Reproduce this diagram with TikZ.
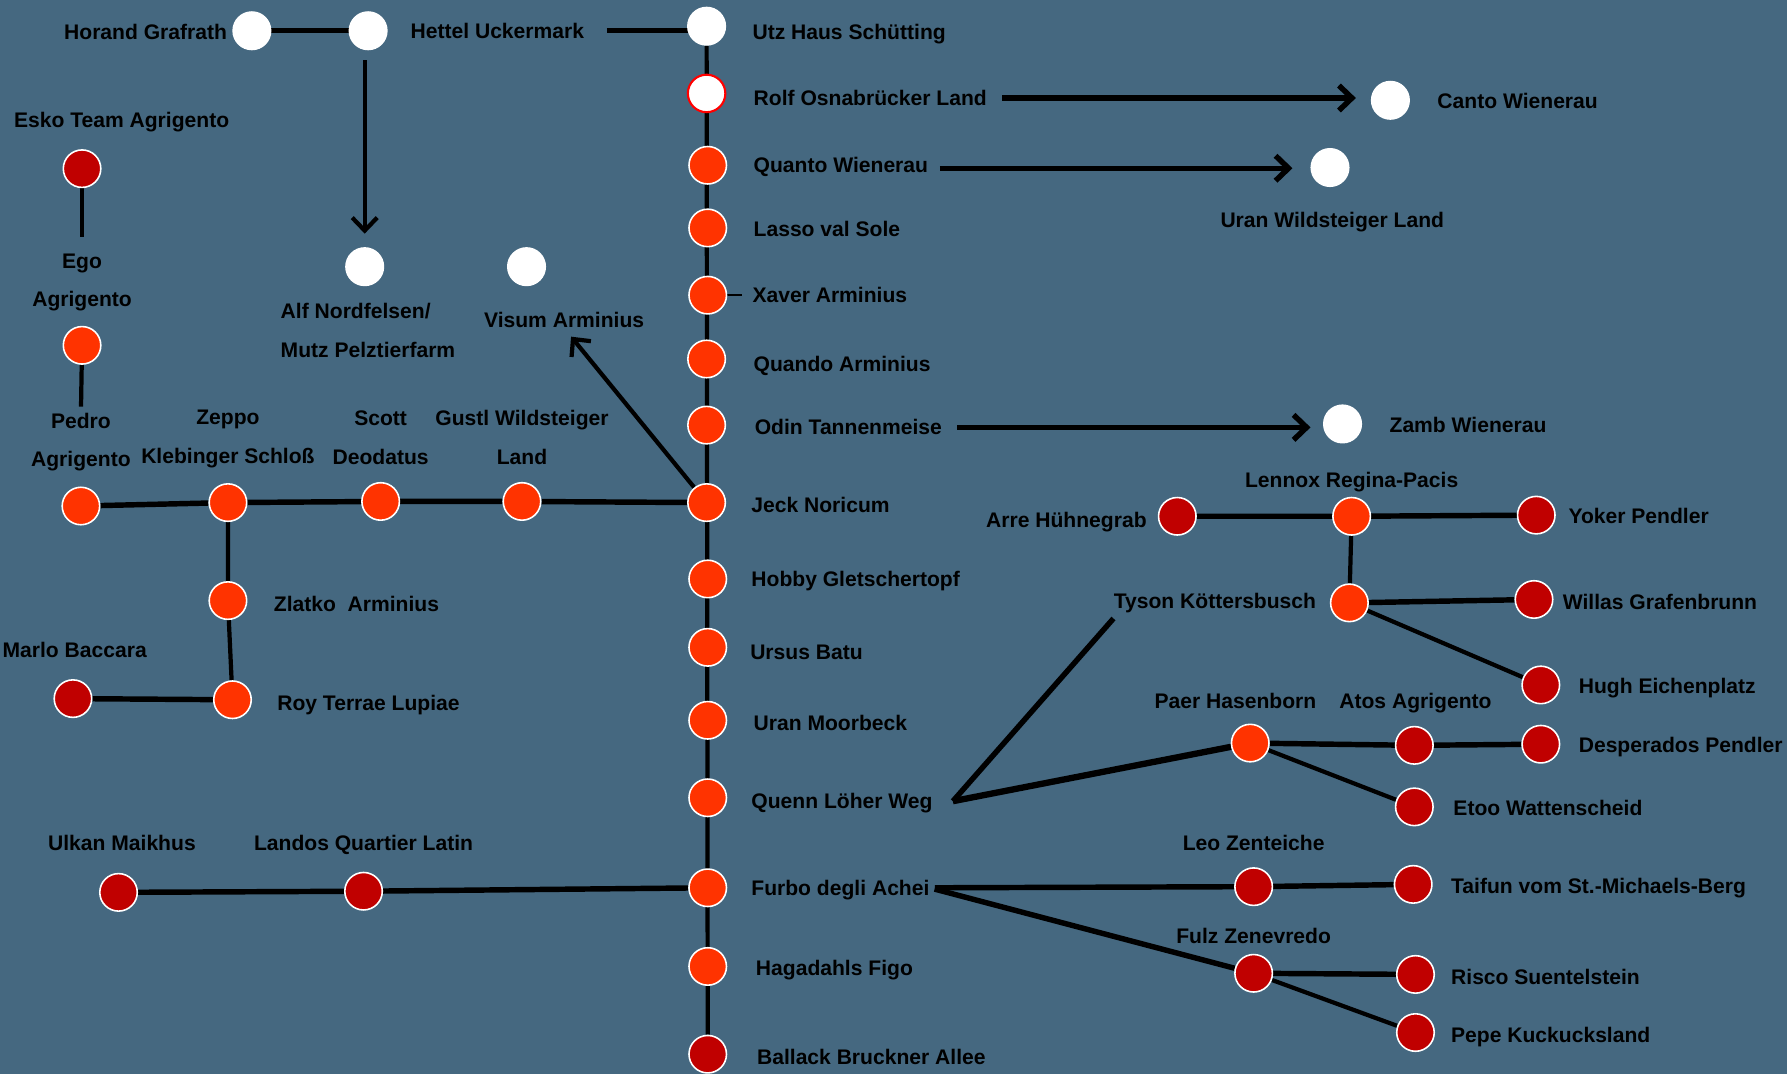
\documentclass[tikz,border=0pt]{standalone}
\usepackage{fontspec}
\setmainfont{Liberation Sans}
\usetikzlibrary{arrows.meta}
\definecolor{bgblue}{RGB}{69,104,128}
\definecolor{stnorange}{RGB}{255,51,0}
\definecolor{stnred}{RGB}{192,0,0}
\pgfdeclarelayer{back}
\pgfsetlayers{back,main}
\tikzset{
  stn/.style={circle, minimum size=7.5mm, inner sep=0pt, draw=white, line width=0.9pt},
  wst/.style={stn, fill=white},
  ost/.style={stn, fill=stnorange},
  dst/.style={stn, fill=stnred},
  lbl/.style={font=\bfseries\fontsize{12}{22}\selectfont, inner sep=0pt, text height=8.6pt, text depth=0pt, anchor=west},
  lbltwo/.style={font=\bfseries\fontsize{12}{22}\selectfont, inner sep=0pt, align=center},
  thk/.style={line width=3.1pt},
  thn/.style={line width=2.4pt},
  arr/.style={-{Straight Barb[length=2.6mm,width=5mm]}}
}
\begin{document}
\begin{tikzpicture}[x=0.228mm, y=-0.228mm]
\useasboundingbox (0,0) rectangle (1568,942);
\begin{pgfonlayer}{back}
\fill [bgblue] (0,0) rectangle (1568,942);
\end{pgfonlayer}
% main line
\node [wst] (utz) at (620,23) {};
\node [wst, draw=red, line width=1.2pt] (rolf) at (620,82) {};
\node [ost] (quanto) at (621,145) {};
\node [ost] (lasso) at (621,200) {};
\node [ost] (xaver) at (621,259) {};
\node [ost] (quando) at (620,315) {};
\node [ost] (odin) at (620,373) {};
\node [ost] (jeck) at (620,441) {};
\node [ost] (hobby) at (621,508) {};
\node [ost] (ursus) at (621,568) {};
\node [ost] (uranm) at (621,632) {};
\node [ost] (quenn) at (621,700) {};
\node [ost] (furbo) at (621,779) {};
\node [ost] (hagad) at (621,848) {};
\node [dst] (ballack) at (621,925) {};
\node [lbl] (utzl) at (660,28) {Utz Haus Schütting};
\node [lbl] (rolfl) at (661,86) {Rolf Osnabrücker Land};
\node [lbl] (quantol) at (661,145) {Quanto Wienerau};
\node [lbl] (lassol) at (661,201) {Lasso val Sole};
\node [lbl] (xaverl) at (660,259) {Xaver Arminius};
\node [lbl] (quandol) at (661,319) {Quando Arminius};
\node [lbl] (odinl) at (662,375) {Odin Tannenmeise};
\node [lbl] (jeckl) at (659,443) {Jeck Noricum};
\node [lbl] (hobbyl) at (659,508) {Hobby Gletschertopf};
\node [lbl] (ursusl) at (658,572) {Ursus Batu};
\node [lbl] (uranml) at (661,634) {Uran Moorbeck};
\node [lbl] (quennl) at (659,703) {Quenn Löher Weg};
\node [lbl] (furbol) at (659,779) {Furbo degli Achei};
\node [lbl] (hagadl) at (663,849) {Hagadahls Figo};
\node [lbl] (ballackl) at (664,927) {Ballack Bruckner Allee};
% top left
\node [wst] (horand) at (221,27) {};
\node [wst] (hettel) at (323,27) {};
\node [wst] (alf) at (320,234) {};
\node [wst] (visum) at (462,234) {};
\node [lbl] (horandl) at (56,28) {Horand Grafrath};
\node [lbl] (hettell) at (360,27) {Hettel Uckermark};
\node [lbltwo, align=left, anchor=west] (alfl) at (246,290) {Alf Nordfelsen/\\Mutz Pelztierfarm};
\node [lbl, anchor=center] (visuml) at (495,281) {Visum Arminius};
% left side
\node [dst] (esko) at (72,148) {};
\node [ost] (ego) at (72,303) {};
\node [ost] (pedro) at (71,444) {};
\node [ost] (zeppo) at (200,441) {};
\node [ost] (scott) at (334,440) {};
\node [ost] (gustl) at (458,440) {};
\node [ost] (zlatko) at (200,527) {};
\node [ost] (roy) at (204,614) {};
\node [dst] (marlo) at (64,613) {};
\node [dst] (ulkan) at (104,783) {};
\node [dst] (landos) at (319,782) {};
\node [lbl] (eskol) at (12,105) {Esko Team Agrigento};
\node [lbltwo] (egol) at (72,248) {Ego\\Agrigento};
\node [lbltwo] (pedrol) at (71,388) {Pedro\\Agrigento};
\node [lbltwo] (zeppol) at (200,385) {Zeppo\\Klebinger Schloß};
\node [lbltwo] (scottl) at (334,384) {Scott\\Deodatus};
\node [lbltwo] (gustll) at (458,384) {Gustl Wildsteiger\\Land};
\node [lbl] (zlatkol) at (240,530) {Zlatko~ Arminius};
\node [lbl] (royl) at (243,617) {Roy Terrae Lupiae};
\node [lbl] (marlol) at (2,570) {Marlo Baccara};
\node [lbl, anchor=center] (ulkanl) at (107,740) {Ulkan Maikhus};
\node [lbl, anchor=center] (landosl) at (319,740) {Landos Quartier Latin};
% right side
\node [wst] (canto) at (1220,88) {};
\node [wst] (uranw) at (1167,147) {};
\node [wst] (zamb) at (1178,372) {};
\node [lbl] (cantol) at (1261,89) {Canto Wienerau};
\node [lbl, anchor=center] (uranwl) at (1169,193) {Uran Wildsteiger Land};
\node [lbl] (zambl) at (1219,373) {Zamb Wienerau};
\node [dst] (arre) at (1033,453) {};
\node [ost] (lennox) at (1186,453) {};
\node [dst] (yoker) at (1348,452) {};
\node [ost] (tyson) at (1184,529) {};
\node [dst] (willas) at (1346,526) {};
\node [dst] (hugh) at (1352,601) {};
\node [ost] (paer) at (1097,652) {};
\node [dst] (atos) at (1241,654) {};
\node [dst] (desp) at (1352,653) {};
\node [dst] (etoo) at (1241,708) {};
\node [dst] (leo) at (1100,778) {};
\node [dst] (taifun) at (1240,776) {};
\node [dst] (fulz) at (1100,854) {};
\node [dst] (risco) at (1242,855) {};
\node [dst] (pepe) at (1242,906) {};
\node [lbl] (arrel) at (865,456) {Arre Hühnegrab};
\node [lbl, anchor=center] (lennoxl) at (1186,421) {Lennox Regina-Pacis};
\node [lbl] (yokerl) at (1376,453) {Yoker Pendler};
\node [lbl] (tysonl) at (977,527) {Tyson Köttersbusch};
\node [lbl] (willasl) at (1371,528) {Willas Grafenbrunn};
\node [lbl] (hughl) at (1385,602) {Hugh Eichenplatz};
\node [lbl, anchor=center] (paerl) at (1084,615) {Paer Hasenborn};
\node [lbl, anchor=center] (atosl) at (1242,615) {Atos Agrigento};
\node [lbl] (despl) at (1385,654) {Desperados Pendler};
\node [lbl] (etool) at (1275,709) {Etoo Wattenscheid};
\node [lbl, anchor=center] (leol) at (1100,740) {Leo Zenteiche};
\node [lbl] (taifunl) at (1273,777) {Taifun vom St.-Michaels-Berg};
\node [lbl, anchor=center] (fulzl) at (1100,821) {Fulz Zenevredo};
\node [lbl] (riscol) at (1273,857) {Risco Suentelstein};
\node [lbl] (pepel) at (1273,908) {Pepe Kuckucksland};
% connectors
\begin{pgfonlayer}{back}
\draw [thn] (utz) -- (ballack);
\draw [thk] (horand) -- (hettel);
\draw [thk, shorten <=4.5mm] (hettell.east) -- (hettell.east -| utz);
\draw [thn, arr, shorten <=2mm, shorten >=2.7mm] (hettel.south -| alf) -- (alf.north);
\draw [thn, arr, shorten >=2.2mm] (jeck) -- (visuml.south);
\draw [thn, line width=1.4pt, shorten >=2mm] (xaver) -- (xaverl.west);
\draw [thn, shorten >=3.2mm] (esko) -- (egol.north);
\draw [thn, shorten >=1.2mm] (ego) -- (pedrol.north);
\draw [thk] (pedro) -- (zeppo) -- (scott) -- (gustl) -- (jeck);
\draw [thn] (zeppo) -- (zlatko) -- (roy);
\draw [thk] (marlo) -- (roy);
\draw [thk] (ulkan) -- (landos) -- (furbo);
\draw [thk, arr, shorten <=3mm, shorten >=3mm] (rolfl.east) -- (rolfl.east -| canto.west);
\draw [thk, arr, shorten <=2.3mm, shorten >=3.6mm] ([yshift=-0.6mm]quantol.east) -- ([yshift=-0.6mm]quantol.east -| uranw.west);
\draw [thk, arr, shorten <=3mm, shorten >=2.5mm] (odinl.east) -- (odinl.east -| zamb.west);
\draw [thk] (arre) -- (lennox) -- (yoker);
\draw [thn] (lennox) -- (tyson);
\draw [thk] (tyson) -- (willas);
\draw [thn] (tyson) -- (hugh);
\draw [thk] ([yshift=-2mm]tysonl.south west) -- ([xshift=4mm]quennl.east);
\draw [thk, line width=3.6pt] ([xshift=4mm]quennl.east) -- (paer);
\draw [thk] (paer) -- (atos) -- (desp);
\draw [thn] (paer) -- (etoo);
\draw [thk, shorten <=1mm] (furbol.east) -- (leo);
\draw [thk] (leo) -- (taifun);
\draw [thk, shorten <=1mm] (furbol.east) -- (fulz);
\draw [thk] (fulz) -- (risco);
\draw [thn] (fulz) -- (pepe);
\end{pgfonlayer}
\end{tikzpicture}
\end{document}
